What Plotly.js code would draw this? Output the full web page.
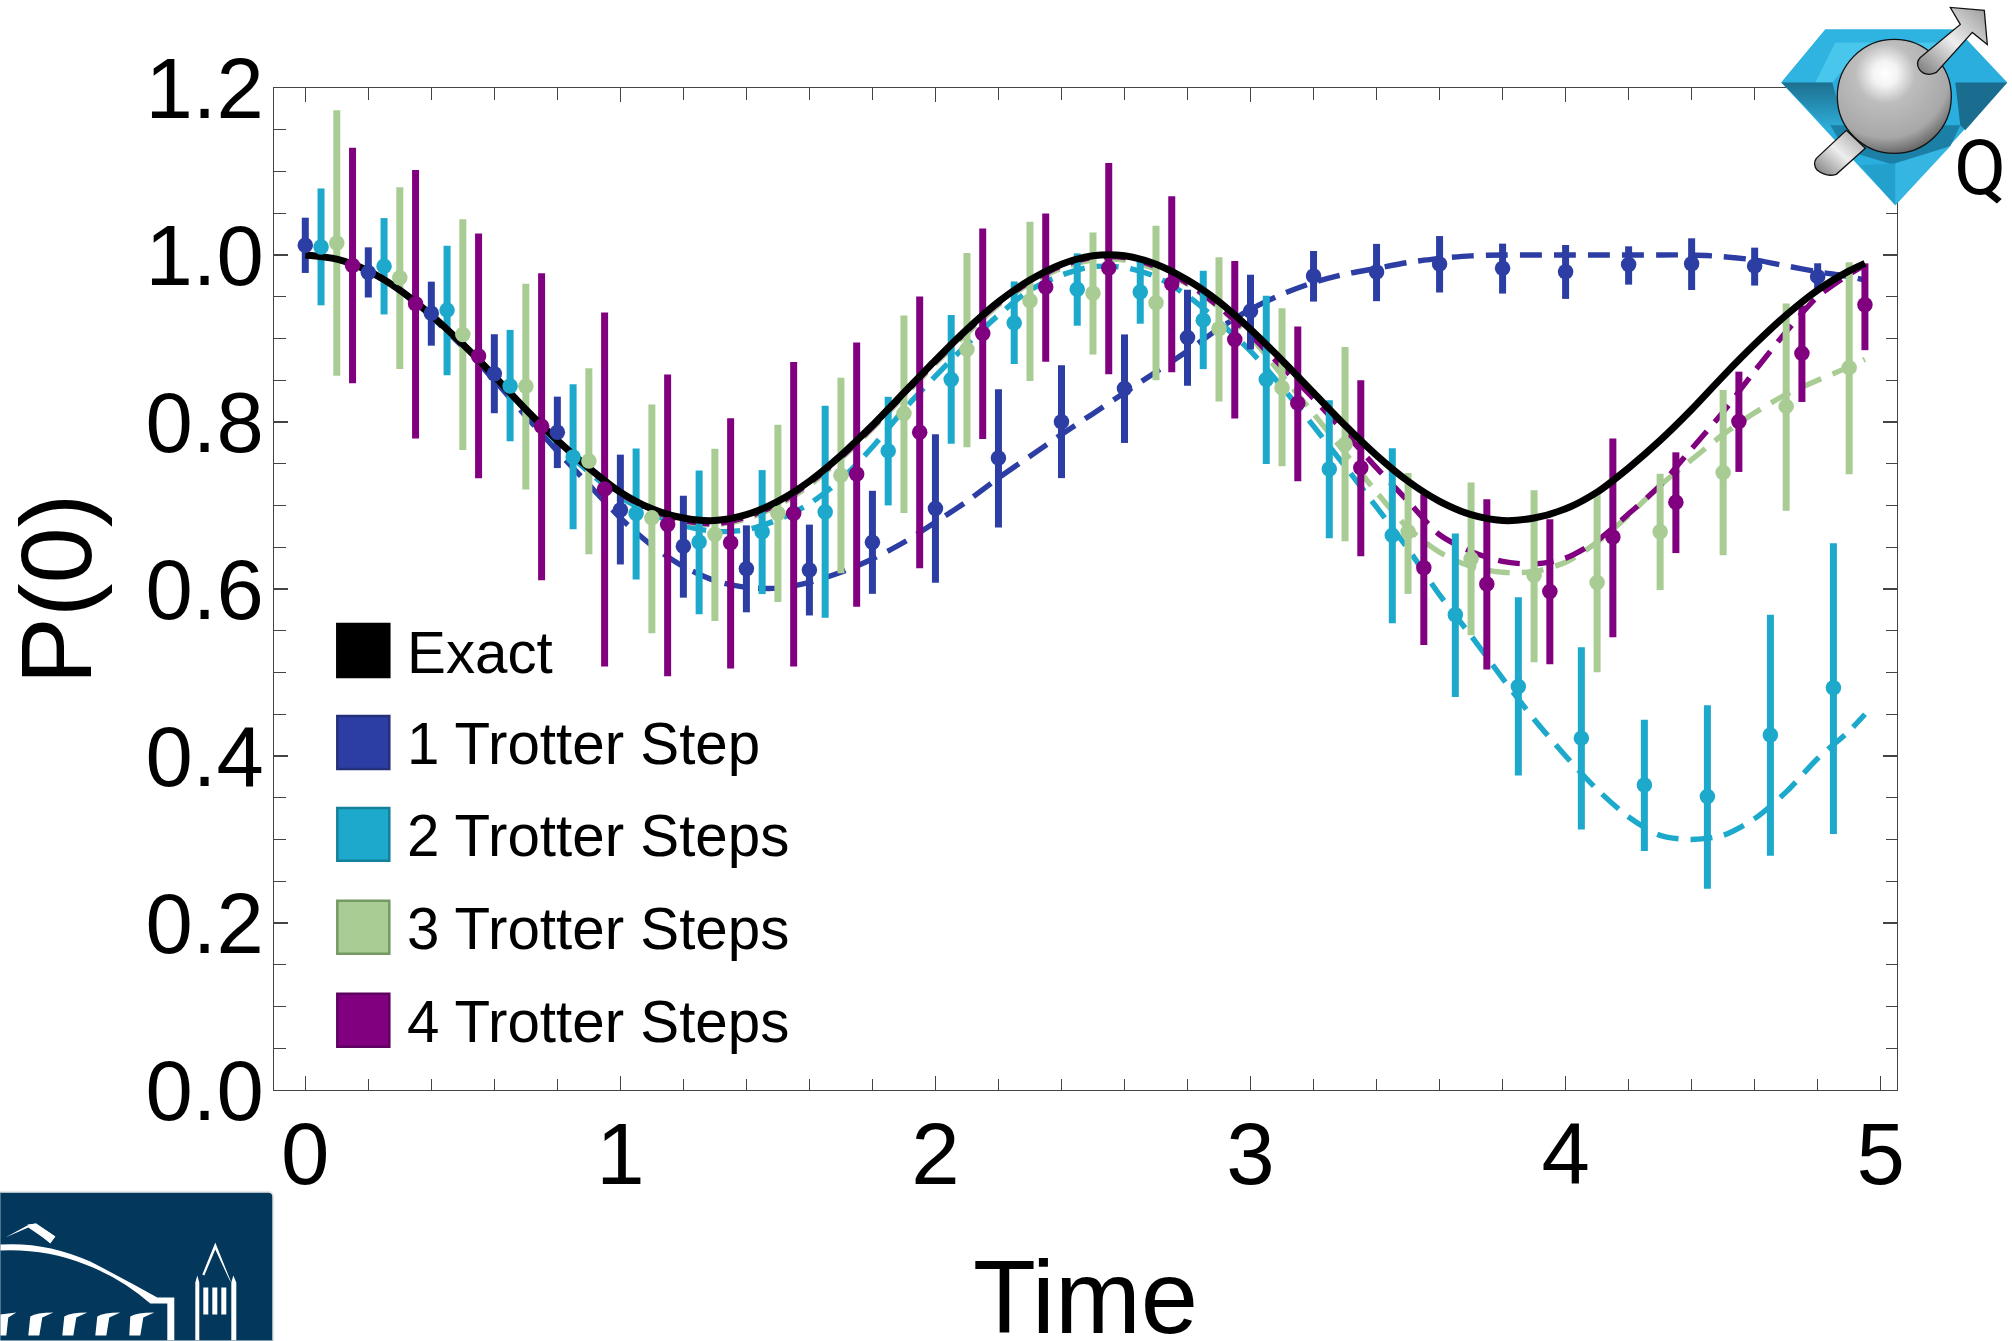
<!DOCTYPE html>
<html>
<head>
<meta charset="utf-8">
<script src="https://cdn.plot.ly/plotly-3.0.1.min.js"></script>
<style>html,body{margin:0;padding:0;background:#fff;overflow:hidden;height:1341px}</style>
</head>
<body>
<div id="chart"></div>
<script>
// Curves sampled every 0.1 (last sample at 4.95)
const curveT = [0,0.1,0.2,0.3,0.4,0.5,0.6,0.7,0.8,0.9,1.0,1.1,1.2,1.3,1.4,1.5,1.6,1.7,1.8,1.9,2.0,2.1,2.2,2.3,2.4,2.5,2.6,2.7,2.8,2.9,3.0,3.1,3.2,3.3,3.4,3.5,3.6,3.7,3.8,3.9,4.0,4.1,4.2,4.3,4.4,4.5,4.6,4.7,4.8,4.9,4.95];
const exact = [1,.995,.981,.958,.928,.893,.855,.815,.778,.745,.716,.696,.685,.682,.689,.705,.729,.760,.796,.835,.874,.911,.944,.970,.989,.999,.999,.989,.970,.944,.911,.874,.835,.796,.760,.729,.705,.689,.682,.685,.696,.716,.745,.778,.815,.855,.893,.928,.958,.981,.990];
const curve1 = [1,.995,.98,.957,.926,.89,.85,.807,.765,.725,.685,.652,.627,.61,.602,.601,.608,.62,.636,.656,.68,.705,.733,.759,.785,.81,.835,.86,.885,.912,.935,.953,.967,.977,.984,.991,.996,.999,1,1,1,1,1,1,1,.998,.994,.987,.98,.974,.97];
const curve2 = [1,.995,.981,.958,.928,.893,.855,.815,.775,.74,.71,.69,.676,.669,.671,.683,.702,.731,.77,.815,.855,.893,.928,.958,.976,.986,.985,.974,.951,.92,.885,.842,.795,.747,.698,.648,.593,.544,.493,.444,.4,.36,.327,.305,.30,.305,.325,.357,.397,.43,.45];
const curve3 = [1,.995,.981,.958,.928,.893,.855,.815,.778,.744,.714,.694,.681,.677,.684,.7,.724,.756,.792,.831,.87,.906,.94,.966,.984,.994,.994,.983,.965,.937,.902,.856,.81,.763,.716,.673,.644,.627,.62,.621,.632,.656,.688,.724,.755,.785,.811,.833,.85,.866,.875];
const curve4 = [1,.995,.981,.958,.928,.893,.855,.815,.778,.744,.714,.694,.682,.678,.686,.702,.727,.758,.794,.833,.872,.909,.942,.968,.987,.997,.997,.986,.966,.938,.904,.866,.828,.787,.745,.705,.665,.645,.633,.63,.637,.658,.69,.724,.768,.812,.861,.908,.95,.977,.988];

// Measured points
const t1 = [0,.2,.4,.6,.8,1,1.2,1.4,1.6,1.8,2,2.2,2.4,2.6,2.8,3,3.2,3.4,3.6,3.8,4,4.2,4.4,4.6,4.8];
const p1 = [1.0116,.9789,.9302,.8578,.7878,.6946,.6511,.6242,.6227,.6561,.6963,.7569,.8004,.8401,.9012,.9328,.9749,.9797,.9891,.9842,.98,.9885,.9896,.9869,.9741];
const hi1 = [1.0447,1.0092,.9681,.9051,.8304,.7609,.7117,.6762,.6771,.7176,.7853,.8392,.868,.9049,.9584,.9764,1.0048,1.0133,1.0227,1.0136,1.012,1.0104,1.02,1.0088,.9901];
const lo1 = [.9785,.9491,.8914,.8105,.7448,.6294,.5896,.5721,.5683,.5942,.6074,.6736,.7328,.7749,.8434,.887,.9442,.9447,.9551,.9538,.9474,.9645,.9581,.9634,.9581];

const t2 = [.05,.25,.45,.65,.85,1.05,1.25,1.45,1.65,1.85,2.05,2.25,2.45,2.65,2.85,3.05,3.25,3.45,3.65,3.85,4.05,4.25,4.45,4.65,4.85];
const p2 = [1.0097,.9865,.934,.8432,.758,.6904,.6563,.6686,.6923,.7654,.851,.9187,.9589,.9556,.922,.851,.7436,.6642,.5691,.4833,.4214,.3653,.3514,.4251,.4817];
const hi2 = [1.0797,1.0442,1.0111,.9103,.8451,.7684,.7419,.7424,.8195,.8302,.9281,.9683,1.0019,.9934,.9811,.9513,.8259,.7687,.6665,.5901,.5303,.4433,.4609,.5693,.6547];
const lo2 = [.9397,.9288,.8559,.7769,.6715,.6114,.5698,.5939,.5655,.7001,.7739,.8695,.9153,.9177,.8633,.7498,.6609,.5591,.4707,.3765,.3119,.2863,.2409,.2804,.3066];

const t3 = [.1,.3,.5,.7,.9,1.1,1.3,1.5,1.7,1.9,2.1,2.3,2.5,2.7,2.9,3.1,3.3,3.5,3.7,3.9,4.1,4.3,4.5,4.7,4.9];
const p3 = [1.0144,.9728,.9047,.8427,.7533,.6852,.6653,.6904,.7363,.8103,.887,.9451,.9541,.9428,.9116,.8411,.7734,.6685,.6361,.6163,.6077,.6686,.7396,.8187,.8651];
const hi3 = [1.1733,1.0811,1.0428,.9657,.8645,.8209,.768,.7968,.8531,.9276,1.0024,1.0398,1.027,1.035,.9972,.9362,.8898,.7389,.7274,.7183,.7151,.738,.8384,.942,.9912];
const lo3 = [.8555,.8635,.7665,.7192,.6417,.547,.5617,.5844,.6189,.6911,.7697,.8491,.8808,.8501,.8245,.7469,.6571,.5942,.5447,.5122,.5004,.5987,.6403,.6937,.7375];

const t4 = [.15,.35,.55,.75,.95,1.15,1.35,1.55,1.75,1.95,2.15,2.35,2.55,2.75,2.95,3.15,3.35,3.55,3.75,3.95,4.15,4.35,4.55,4.75,4.95];
const p4 = [.9874,.9416,.8791,.7949,.7197,.6771,.6554,.6904,.7377,.7876,.9059,.9617,.9844,.9655,.8988,.8226,.7451,.6254,.6061,.5971,.6622,.7039,.8005,.8822,.9404];
const hi4 = [1.1284,1.1019,1.0258,.978,.9312,.8569,.8044,.872,.8952,.9504,1.0317,1.0497,1.1102,1.0705,.9929,.9144,.8501,.7135,.7076,.6836,.7802,.7637,.8603,.9394,.99];
const lo4 = [.8465,.7803,.7325,.6104,.5073,.4955,.5049,.5073,.5787,.6249,.7796,.8723,.8572,.8595,.8042,.729,.6391,.533,.5036,.51,.5421,.643,.7402,.824,.886];

const legendNames = ["Exact","1 Trotter Step","2 Trotter Steps","3 Trotter Steps","4 Trotter Steps"];
const legendColors = ["#000000","#2C3EA3","#1CA9CB","#A8CC94","#800080"];
const legendBorders = ["#000000","#25307A","#14809A","#739A62","#5E0060"];
const legendTops = [623,715,807,900,993];

const xTicks = [0,1,2,3,4,5];
const yTicks = [0,0.2,0.4,0.6,0.8,1.0,1.2];
const yTickText = ["0.0","0.2","0.4","0.6","0.8","1.0","1.2"];

const L=273.7,R=1896.7,T=87.6,B=1090.3,W=2012,H=1365;
const px=x=>(x-L)/(R-L), py=y=>1-(y-T)/(B-T);
const FONT='"Liberation Sans", Arial, sans-serif';

const traces=[];
[[curve1,1],[curve2,2],[curve3,3],[curve4,4]].forEach(([c,i])=>{
  traces.push({x:curveT,y:c,mode:'lines',line:{color:legendColors[i],width:5.4,dash:'22px,12px',shape:'spline',smoothing:0.8},hoverinfo:'skip',showlegend:false});
});
const sets=[[t1,p1,hi1,lo1,1],[t2,p2,hi2,lo2,2],[t3,p3,hi3,lo3,3],[t4,p4,hi4,lo4,4]];
sets.forEach(([t,p,hi,lo,i])=>{
  traces.push({x:t,y:p,mode:'markers',marker:{size:0.1,color:legendColors[i]},
    error_y:{type:'data',symmetric:false,array:p.map((v,k)=>hi[k]-v),arrayminus:p.map((v,k)=>v-lo[k]),color:legendColors[i],thickness:7,width:0},
    hoverinfo:'skip',showlegend:false});
});
traces.push({x:curveT,y:exact,mode:'lines',line:{color:'#000',width:7,shape:'spline',smoothing:0.8},hoverinfo:'skip',showlegend:false});
sets.forEach(([t,p,hi,lo,i])=>{
  traces.push({x:t,y:p,mode:'markers',marker:{size:15.5,color:legendColors[i]},hoverinfo:'skip',showlegend:false});
});

const shapes=legendTops.map((y,i)=>({type:'rect',xref:'paper',yref:'paper',x0:px(337),x1:px(389),y0:py(y+1),y1:py(y+54),
  fillcolor:legendColors[i],line:{color:legendBorders[i],width:2.5}}));

const annotations=legendNames.map((n,i)=>({xref:'paper',yref:'paper',x:px(405),y:py(legendTops[i]+29),xanchor:'left',yanchor:'middle',showarrow:false,
  text:n,font:{family:FONT,size:58.3,color:'#000'}}));
annotations.push({xref:'paper',yref:'paper',x:px(1980),y:py(168),xanchor:'center',yanchor:'middle',showarrow:false,text:'Q',
  font:{family:'Roboto,"Liberation Sans",sans-serif',size:76,color:'#000'}});

const qLogo=`<svg xmlns='http://www.w3.org/2000/svg' width='252' height='220' viewBox='0 0 252 220'>
<defs>
<radialGradient id='s' cx='0.42' cy='0.3' r='0.75'><stop offset='0' stop-color='#fff'/><stop offset='0.14' stop-color='#f4f4f4'/><stop offset='0.35' stop-color='#bdbdbd'/><stop offset='0.75' stop-color='#a8a8a8'/><stop offset='1' stop-color='#555'/></radialGradient>
<linearGradient id='a' x1='0' y1='1' x2='1' y2='0'><stop offset='0' stop-color='#777'/><stop offset='0.5' stop-color='#eee'/><stop offset='1' stop-color='#999'/></linearGradient>
<linearGradient id='d1' x1='0' y1='0' x2='0' y2='1'><stop offset='0' stop-color='#1d6f8f'/><stop offset='1' stop-color='#2fb0dc'/></linearGradient>
</defs>
<polygon points='65,29 197,29 247,82 135,205 21,82' fill='#2AAEDD'/>
<polygon points='65,29 197,29 178,45 85,45 60,82 21,82' fill='#2FB3E0'/>
<polygon points='75,42 180,42 170,55 95,55 72,82 55,82' fill='#49C6EC'/>
<polygon points='21,82 72,82 85,130 68,130' fill='url(#d1)'/>
<polygon points='195,82 247,82 205,130 200,125' fill='#1A6D8E'/>
<polygon points='70,125 200,125 190,146 135,165 85,150' fill='#1B7FA6'/>
<polygon points='135,163 135,205 100,165' fill='#24A0CC'/>
<polygon points='135,163 135,205 190,146' fill='#35B6E2'/>
<path d='M56,158 L86,130 L105,148 L76,174 Q66,177 57,170 Q52,164 56,158 Z' fill='url(#a)' stroke='#111' stroke-width='1.3'/>
<circle cx='134' cy='96' r='57' fill='url(#s)' stroke='#111' stroke-width='1.3'/>
<path d='M160,57 L200,24 L190,7 L224,10 L227,44 L212,32 L176,72 Q165,77 159,69 Q155,62 160,57 Z' fill='url(#a)' stroke='#111' stroke-width='1.3'/>
</svg>`;
const lbnlLogo=`<svg xmlns='http://www.w3.org/2000/svg' width='280' height='161' viewBox='0 1180 280 161'>
<rect x='-10' y='1192' width='283' height='170' rx='5' fill='#03385C' stroke='#e9e9e9' stroke-width='2'/>
<path d='M0,1245 Q45,1242 90,1262 Q125,1280 157,1298 L174,1298 L174,1341 L167,1341 L167,1304 L150,1304 Q120,1278 85,1265 Q45,1249 0,1251 Z' fill='#fff'/>
<path d='M5,1238 L27,1226 L35,1224 L55,1237 L50,1243 L28,1228 Z' fill='#fff'/>
<path d='M27,1225 L36,1224 L55,1237 L50,1244 Z' fill='#fff'/>
<g fill='#fff'>
<path d='M0,1315 L16,1313 L8,1318 L6,1336 L0,1336Z'/>
<path d='M30,1317 Q36,1313 53,1313 L42,1318 L39,1336 L28,1336Z'/>
<path d='M64,1317 Q70,1313 87,1313 L76,1318 L73,1336 L62,1336Z'/>
<path d='M97,1317 Q103,1313 120,1313 L109,1318 L106,1336 L95,1336Z'/>
<path d='M130,1317 Q136,1313 154,1313 L143,1318 L140,1336 L129,1336Z'/>
</g>
<path d='M195,1341 L195,1283 L197,1276 L199,1283 L199,1341Z M231,1341 L231,1283 L233,1276 L236,1283 L236,1341Z' fill='#fff'/>
<path d='M202,1275 L215,1243 L231,1283 L229,1280 L215,1250 L204,1276Z' fill='#fff'/>
<path d='M203,1288 h5 v27 h-5z M212,1288 h5 v27 h-5z M221,1288 h5 v27 h-5z' fill='#fff'/>
</svg>`;
const dataUri=s=>'data:image/svg+xml;charset=utf-8,'+encodeURIComponent(s);
const images=[
 {source:dataUri(qLogo),xref:'paper',yref:'paper',x:px(1760),y:py(0),sizex:px(2012)-px(1760),sizey:py(0)-py(220),xanchor:'left',yanchor:'top',sizing:'stretch',layer:'above'},
 {source:dataUri(lbnlLogo),xref:'paper',yref:'paper',x:px(0),y:py(1180),sizex:px(280)-px(0),sizey:py(1180)-py(1341),xanchor:'left',yanchor:'top',sizing:'stretch',layer:'above'}
];

const layout={
  width:W,height:H,autosize:false,
  margin:{l:L,r:W-R,t:T,b:H-B,pad:0,autoexpand:false},
  paper_bgcolor:'#fff',plot_bgcolor:'#fff',showlegend:false,
  font:{family:FONT,color:'#000'},
  xaxis:{range:[-0.0993,5.0518],tickmode:'array',tickvals:xTicks,ticktext:xTicks.map(String),automargin:true,
    ticks:'inside',ticklen:14,tickwidth:1.2,tickcolor:'#444',
    minor:{dtick:0.2,ticks:'inside',ticklen:11.5,tickwidth:1.2,tickcolor:'#444',showgrid:false},
    showline:true,linecolor:'#444',linewidth:1.3,mirror:'ticks',showgrid:false,zeroline:false,
    tickfont:{family:FONT,size:87,color:'#000'},ticklabelstandoff:-12,
    title:{text:'Time',font:{family:FONT,size:103,color:'#000'},standoff:60}},
  yaxis:{range:[0,1.2],tickmode:'array',tickvals:yTicks,ticktext:yTickText,automargin:true,
    ticks:'inside',ticklen:14,tickwidth:1.2,tickcolor:'#444',
    minor:{dtick:0.05,ticks:'inside',ticklen:11.5,tickwidth:1.2,tickcolor:'#444',showgrid:false},
    showline:true,linecolor:'#444',linewidth:1.3,mirror:'ticks',showgrid:false,zeroline:false,
    tickfont:{family:FONT,size:85,color:'#000'},ticklabelstandoff:-8,
    title:{text:'P(0)',font:{family:FONT,size:101,color:'#000'},standoff:28}},
  shapes,annotations,images
};
Plotly.newPlot('chart',traces,layout,{displayModeBar:false,staticPlot:true});
</script>
</body>
</html>
